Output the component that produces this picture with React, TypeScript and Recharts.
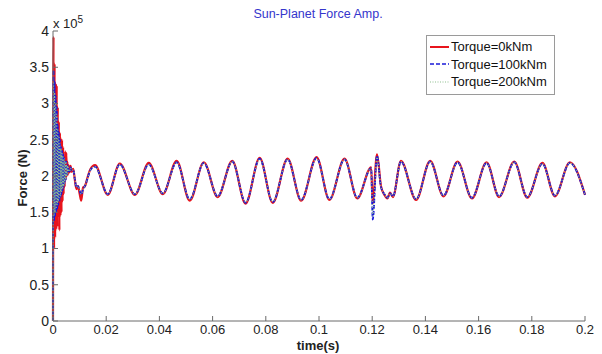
import { Legend, Line, LineChart, XAxis, YAxis } from "recharts"

// time in seconds, force in units of 10^5 N
const time = [
  0, 0.0002, 0.0004, 0.0006, 0.0008, 0.001, 0.0012, 0.0014, 0.0016, 0.0018,
  0.002, 0.0022, 0.0024, 0.0026, 0.0028, 0.003, 0.0032, 0.0034, 0.0036, 0.0038,
  0.004, 0.0042, 0.0044, 0.0046, 0.0048, 0.005, 0.0052, 0.0054, 0.0056, 0.0058,
  0.0062, 0.0066, 0.007, 0.0076, 0.0082, 0.0088, 0.0094, 0.01, 0.0106, 0.0113,
  0.012, 0.013, 0.014, 0.0158, 0.0206, 0.0251, 0.0308, 0.036, 0.0413, 0.0465,
  0.0514, 0.0567, 0.0619, 0.0674, 0.0724, 0.0777, 0.0826, 0.0882, 0.0933, 0.0991,
  0.1039, 0.1096, 0.1144, 0.1196, 0.1202, 0.1218, 0.1233, 0.1246, 0.1257, 0.1267,
  0.1278, 0.1308, 0.1365, 0.1418, 0.1468, 0.1521, 0.1575, 0.163, 0.1677, 0.1734,
  0.1783, 0.184, 0.1887, 0.1943, 0.2,
]

const force0 = [
  0, 3.92, 1.0, 3.55, 1.15, 3.28, 1.26, 3.25, 1.3, 2.95,
  1.45, 2.75, 1.25, 2.6, 1.45, 2.52, 1.5, 2.5, 1.65, 2.4,
  1.75, 2.25, 1.85, 2.34, 1.95, 2.32, 2.0, 2.2, 2.02, 2.15,
  2.05, 2.14, 2.06, 2.1, 1.95, 1.82, 1.86, 1.76, 1.66, 1.84,
  1.86, 1.98, 2.09, 2.15, 1.74, 2.17, 1.74, 2.18, 1.75, 2.21,
  1.66, 2.19, 1.71, 2.21, 1.62, 2.25, 1.63, 2.24, 1.66, 2.26,
  1.67, 2.24, 1.69, 2.12, 1.62, 2.3, 1.86, 1.74, 1.69, 1.77,
  1.71, 2.21, 1.67, 2.21, 1.72, 2.2, 1.69, 2.19, 1.71, 2.2,
  1.7, 2.18, 1.72, 2.19, 1.74,
]

const force100 = [
  0, 3.46, 1.38, 3.3, 1.45, 3.1, 1.5, 2.95, 1.55, 2.7,
  1.6, 2.6, 1.65, 2.5, 1.7, 2.4, 1.75, 2.35, 1.8, 2.3,
  1.85, 2.25, 1.9, 2.2, 1.95, 2.2, 2.0, 2.15, 2.05, 2.12,
  2.06, 2.12, 2.08, 2.08, 1.96, 1.84, 1.86, 1.8, 1.74, 1.82,
  1.86, 1.97, 2.08, 2.13, 1.75, 2.16, 1.75, 2.16, 1.76, 2.19,
  1.68, 2.18, 1.72, 2.2, 1.63, 2.24, 1.64, 2.23, 1.67, 2.25,
  1.68, 2.23, 1.7, 2.11, 1.4, 2.28, 1.85, 1.75, 1.7, 1.76,
  1.72, 2.2, 1.68, 2.2, 1.73, 2.19, 1.7, 2.18, 1.72, 2.19,
  1.71, 2.17, 1.73, 2.18, 1.74,
]

const force200 = [
  0, 3.3, 1.45, 3.15, 1.5, 3.0, 1.55, 2.85, 1.6, 2.65,
  1.65, 2.55, 1.7, 2.45, 1.72, 2.38, 1.78, 2.32, 1.82, 2.28,
  1.86, 2.24, 1.9, 2.2, 1.95, 2.18, 2.0, 2.14, 2.04, 2.12,
  2.06, 2.11, 2.08, 2.08, 1.96, 1.85, 1.86, 1.8, 1.75, 1.82,
  1.86, 1.97, 2.08, 2.13, 1.75, 2.16, 1.75, 2.16, 1.76, 2.19,
  1.68, 2.18, 1.72, 2.2, 1.64, 2.23, 1.65, 2.23, 1.67, 2.24,
  1.68, 2.23, 1.7, 2.11, 1.45, 2.26, 1.85, 1.75, 1.7, 1.76,
  1.72, 2.2, 1.68, 2.2, 1.73, 2.19, 1.7, 2.18, 1.72, 2.19,
  1.71, 2.17, 1.73, 2.18, 1.74,
]

const xTicks = [0, 0.02, 0.04, 0.06, 0.08, 0.1, 0.12, 0.14, 0.16, 0.18, 0.2]
const xTickLabels = ["0", "0.02", "0.04", "0.06", "0.08", "0.1", "0.12", "0.14", "0.16", "0.18", "0.2"]
const yTicks = [0, 0.5, 1, 1.5, 2, 2.5, 3, 3.5, 4]
const yTickLabels = ["0", "0.5", "1", "1.5", "2", "2.5", "3", "3.5", "4"]

const seriesNames = ["Torque=0kNm", "Torque=100kNm", "Torque=200kNm"]

const data = time.map((t, i) => ({
  t,
  f0: force0[i],
  f100: force100[i],
  f200: force200[i],
}))

const font = "'Liberation Sans', Arial, sans-serif"
const axisColor = "#6a6a6a"

const legendStyles = [
  { color: "#e8141c", dash: undefined, width: 2 },
  { color: "#1a1ad8", dash: "4 2", width: 1.6 },
  { color: "#8fbf8f", dash: "1 1.5", width: 1.2 },
]

function LegendBox() {
  return (
    <div
      style={{
        background: "#fff",
        border: "1px solid #9a9a9a",
        padding: "2px 5px 3px 3px",
        fontFamily: font,
        fontSize: 13,
        color: "#111",
        lineHeight: "17.5px",
      }}
    >
      {seriesNames.map((name, i) => (
        <div key={name} style={{ display: "flex", alignItems: "center" }}>
          <svg width={20} height={10} style={{ marginRight: 1 }}>
            <line
              x1={0}
              y1={5}
              x2={19}
              y2={5}
              stroke={legendStyles[i].color}
              strokeWidth={legendStyles[i].width}
              strokeDasharray={legendStyles[i].dash}
            />
          </svg>
          <span>{name}</span>
        </div>
      ))}
    </div>
  )
}

export default function App() {
  return (
    <div style={{ position: "absolute", left: 0, top: 0, width: 602, height: 354, background: "#fff" }}>
      <LineChart width={602} height={354} data={data} margin={{ top: 31, right: 17, bottom: 0, left: 0 }}>
        <XAxis
          dataKey="t"
          type="number"
          domain={[0, 0.2]}
          ticks={xTicks}
          tickFormatter={(v, i) => xTickLabels[i] ?? String(v)}
          height={33}
          tickSize={-5}
          tickMargin={9}
          interval={0}
          stroke={axisColor}
          tick={{ fontSize: 13, fill: "#222", fontFamily: font }}
        />
        <XAxis
          xAxisId="top"
          orientation="top"
          type="number"
          domain={[0, 0.2]}
          ticks={xTicks}
          height={0}
          tickSize={-5}
          tick={false}
          interval={0}
          stroke="#333"
        />
        <YAxis
          type="number"
          domain={[0, 4]}
          ticks={yTicks}
          tickFormatter={(v, i) => yTickLabels[i] ?? String(v)}
          width={53}
          tickSize={-5}
          tickMargin={9}
          interval={0}
          stroke={axisColor}
          tick={{ fontSize: 14, fill: "#222", fontFamily: font }}
        />
        <YAxis
          yAxisId="right"
          orientation="right"
          type="number"
          domain={[0, 4]}
          ticks={yTicks}
          width={0}
          tickSize={-5}
          tick={false}
          interval={0}
          stroke={axisColor}
        />
        <Legend
          layout="vertical"
          align="center"
          verticalAlign="middle"
          content={() => <LegendBox />}
          wrapperStyle={{ top: 35, left: 426, width: 129 }}
        />
        <Line type="monotone" dataKey="f0" stroke="#e8141c" strokeWidth={2.2} dot={false} isAnimationActive={false} />
        <Line
          type="monotone"
          dataKey="f100"
          stroke="#1a1ad8"
          strokeWidth={1.8}
          strokeDasharray="4 2"
          dot={false}
          isAnimationActive={false}
        />
        <Line
          type="monotone"
          dataKey="f200"
          stroke="#8fbf8f"
          strokeWidth={1.2}
          strokeDasharray="1 2"
          dot={false}
          isAnimationActive={false}
        />
      </LineChart>
      <div
        style={{
          position: "absolute",
          left: 0,
          width: 636,
          top: 7,
          textAlign: "center",
          fontFamily: font,
          fontSize: 12.5,
          color: "#3535cc",
        }}
      >
        Sun-Planet Force Amp.
      </div>
      <div style={{ position: "absolute", left: 53, top: 14, fontFamily: font, fontSize: 13, color: "#222" }}>
        x 10<sup style={{ fontSize: 10 }}>5</sup>
      </div>
      <div
        style={{
          position: "absolute",
          left: 0,
          width: 636,
          top: 338,
          textAlign: "center",
          fontFamily: font,
          fontSize: 13,
          fontWeight: "bold",
          color: "#222",
          lineHeight: "15px",
        }}
      >
        time(s)
      </div>
      <div
        style={{
          position: "absolute",
          left: 22,
          top: 178,
          transform: "translate(-50%, -50%) rotate(-90deg)",
          whiteSpace: "nowrap",
          fontFamily: font,
          fontSize: 13,
          fontWeight: "bold",
          color: "#222",
        }}
      >
        Force (N)
      </div>
    </div>
  )
}
